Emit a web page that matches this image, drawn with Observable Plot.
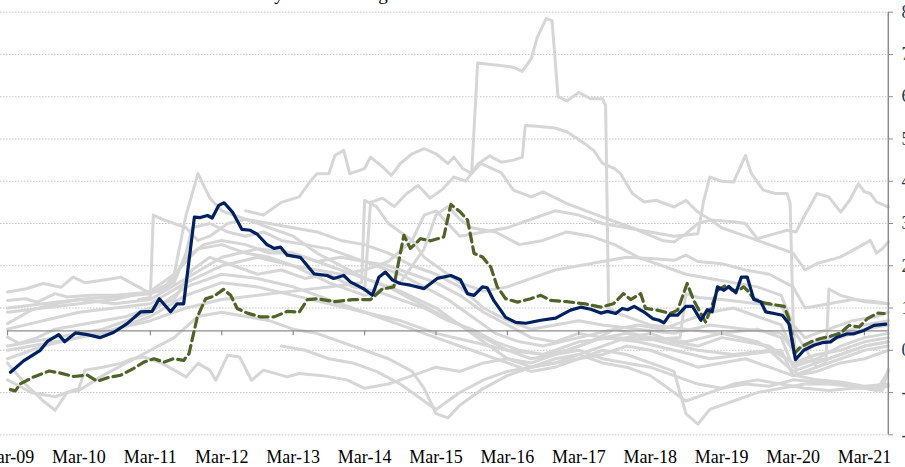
<!DOCTYPE html>
<html>
<head>
<meta charset="utf-8">
<script src="https://cdn.jsdelivr.net/npm/d3@7"></script>
<script src="https://cdn.jsdelivr.net/npm/@observablehq/plot@0.6"></script>
<style>
  html, body { margin: 0; padding: 0; background: #fff; overflow: hidden; }
  #chart { width: 905px; height: 467px; }
</style>
</head>
<body>
<div id="chart"></div>
<script>
// ---- Data (x = months since Mar-2009, y = % y/y) ----
const titleText = "Inflation rates by euro area region";
const tickMonths = [0, 12, 24, 36, 48, 60, 72, 84, 96, 108, 120, 132, 144];
const tickLabels = ["Mar-09","Mar-10","Mar-11","Mar-12","Mar-13","Mar-14","Mar-15","Mar-16","Mar-17","Mar-18","Mar-19","Mar-20","Mar-21"];
const yTicks = [-2, -1, 0, 1, 2, 3, 4, 5, 6, 7, 8];
const axisCross = 0.46;

// Aggregate (solid navy)
const navy = [[0.5,-0.52],[2.7,-0.25],[5.5,0.0],[6.7,0.21],[8.6,0.37],[9.6,0.2],[11.4,0.41],[13.4,0.37],[15.6,0.3],[17.8,0.42],[20.1,0.63],[22.4,0.91],[24.3,0.92],[25.5,1.22],[27.4,0.91],[28.5,1.1],[29.6,1.1],[31.4,3.15],[32.4,3.14],[33.6,3.19],[34.4,3.13],[35.5,3.43],[36.4,3.49],[37.8,3.27],[39.4,2.86],[40.8,2.84],[42,2.74],[43.6,2.5],[44.8,2.41],[45.9,2.44],[47,2.25],[49.2,2.2],[51.5,1.81],[53.7,1.77],[54.8,1.7],[56.5,1.77],[57.6,1.62],[59.8,1.46],[61.3,1.3],[62.4,1.73],[63.5,1.85],[64.7,1.66],[66,1.58],[67.7,1.54],[70,1.46],[72.2,1.7],[74.5,1.77],[76.1,1.67],[77.3,1.34],[78.4,1.3],[79.8,1.5],[80.6,1.48],[81.7,1.18],[83.7,0.78],[85.4,0.66],[87.1,0.64],[89.6,0.71],[92.1,0.76],[94.6,0.95],[96.3,1.02],[98,0.97],[99.7,0.88],[100.8,0.92],[102.2,0.87],[103.3,0.99],[104.2,0.96],[105.3,1.04],[106.9,0.91],[108.4,0.75],[109.5,0.71],[110.3,0.65],[111.2,0.83],[112.6,0.83],[114,1.04],[115.1,1.04],[116.5,0.71],[117.6,0.96],[118.4,0.91],[119.3,1.5],[120.4,1.42],[121.2,1.51],[122.4,1.36],[123.3,1.73],[124.3,1.73],[125.4,1.2],[126.6,1.14],[127.4,0.91],[128.8,0.87],[130.2,0.83],[131.3,0.63],[132.4,-0.22],[133.8,0.0],[135.5,0.12],[136.9,0.18],[138.3,0.2],[139.4,0.31],[141.1,0.39],[142.2,0.39],[143.9,0.47],[145.6,0.59],[147.6,0.62]];

// Comparison series (dashed green)
const green = [[0.5,-0.93],[1.3,-0.96],[2.2,-0.79],[4.4,-0.63],[7,-0.49],[8.9,-0.54],[11.1,-0.62],[13.4,-0.59],[15.1,-0.73],[16.8,-0.65],[19,-0.59],[21.2,-0.43],[22.9,-0.28],[24.6,-0.2],[26.3,-0.28],[27.9,-0.2],[29.6,-0.24],[30.5,-0.08],[31.9,0.79],[33.3,1.22],[34.7,1.28],[36.3,1.44],[37.5,1.3],[38.6,0.99],[40.3,0.88],[42.5,0.79],[44.8,0.79],[47,0.92],[49,0.9],[50.4,1.2],[52,1.22],[55,1.15],[58,1.2],[61,1.2],[63,1.45],[64.9,1.5],[66.6,2.72],[67.7,2.41],[69.4,2.64],[71.1,2.59],[73.3,2.68],[74.5,3.45],[76.1,3.27],[77.3,3.08],[78.4,2.29],[79.8,2.21],[81.2,1.97],[82.3,1.5],[83.7,1.22],[85.7,1.14],[87.9,1.22],[89.6,1.3],[91.3,1.18],[94,1.15],[97,1.1],[99.7,1.02],[101.8,1.1],[103.5,1.34],[104.7,1.2],[106.4,1.34],[107.2,0.99],[109.2,0.95],[111.4,0.87],[112.6,0.95],[114.2,1.58],[115.3,1.18],[116.5,0.87],[117.3,0.67],[118.2,0.99],[119.3,1.42],[120.7,1.54],[121.8,1.42],[122.9,1.42],[123.7,1.5],[124.3,1.42],[125.4,1.22],[127.1,1.12],[128.8,1.08],[130.5,1.04],[131.3,0.75],[132.2,-0.08],[133.3,0.08],[135,0.2],[136.6,0.28],[138.3,0.33],[140,0.41],[141.4,0.59],[143.1,0.55],[144.5,0.75],[146.2,0.88],[147.3,0.87]];

// Individual members (light grey)
const grey01 = [[0,1.38],[3,1.45],[6,1.58],[9,1.49],[11,1.73],[13,1.6],[17,1.68],[19,1.73],[22,1.5],[24,1.34],[26,1.5],[28,1.6],[30,2.3],[31,2.9],[34,3.0],[37,2.8],[40,2.7],[43,2.8],[46,2.6],[50,2.5],[54,2.4],[58,2.2],[62,2.0],[66,1.8],[70,1.5],[74,1.2],[78,0.8],[82,0.4],[86,0.2],[90,0.1],[96,0.3],[102,0.5],[108,0.3],[114,0.2],[120,0.4],[126,0.5],[130,0.3],[132,-0.4],[136,-0.2],[140,0.1],[144,0.3],[148,0.4]];
const grey02 = [[0,1.18],[3,1.22],[5,1.14],[8,1.34],[10,1.26],[14,1.3],[18,1.3],[22,1.35],[26,1.4],[28,1.8],[30,3.2],[32,4.18],[34,3.6],[36,3.3],[40,3.1],[44,2.9],[48,2.7],[52,2.3],[56,2.0],[60,1.7],[64,1.5],[68,1.2],[72,0.9],[76,0.6],[80,0.3],[84,0.0],[88,-0.2],[92,-0.1],[96,0.1],[100,0.3],[104,0.4],[110,0.2],[116,0.0],[122,-0.1],[128,0.0],[132,-0.5],[136,-0.3],[140,-0.1],[144,0.1],[148,0.2]];
const grey03 = [[22,1.2],[24,1.25],[24.5,3.2],[26,3.1],[28,3.0],[30,2.9],[32,2.6],[34,2.7],[37,3.0],[40,3.1],[44,3.0],[48,2.9],[52,2.8],[56,2.6],[60,2.5],[64,2.3],[68,2.0],[72,1.8],[76,1.5],[80,1.0],[84,0.7],[88,0.5],[92,0.6],[96,0.7],[100,0.6],[106,0.5],[112,0.4],[118,0.6],[124,0.5],[130,0.4],[132,0.0],[136,0.2],[140,0.3],[144,0.5],[148,0.6]];
const grey04 = [[0,0.63],[2,0.79],[4,0.95],[8,1.1],[13,1.22],[18,1.26],[24,1.34],[27,1.5],[30,2.2],[33,2.5],[36,2.6],[40,2.5],[44,2.3],[48,2.3],[52,2.1],[56,2.2],[60,2.1],[64,2.0],[68,1.8],[72,1.6],[76,1.3],[80,0.9],[84,0.6],[88,0.3],[92,0.2],[96,0.4],[100,0.3],[106,0.2],[112,0.0],[118,-0.2],[124,-0.1],[130,0.0],[132,-0.6],[136,-0.4],[140,-0.2],[144,0.0],[148,0.1]];
const grey05 = [[0,0.31],[2,0.16],[5,0.3],[8,0.5],[12,0.6],[16,0.7],[20,0.8],[24,1.0],[28,1.2],[31,1.9],[34,2.2],[38,2.0],[42,1.8],[46,1.9],[50,1.7],[54,1.8],[58,1.5],[62,1.4],[66,1.2],[70,1.0],[74,0.7],[78,0.5],[82,0.2],[86,0.0],[90,-0.1],[94,0.0],[98,0.2],[102,0.5],[106,0.6],[110,0.5],[114,0.7],[118,0.9],[122,1.0],[126,0.8],[130,0.6],[132,0.0],[136,0.2],[140,0.4],[144,0.6],[148,0.7]];
const grey06 = [[0,-0.3],[3,-0.8],[6,-1.2],[8,-1.42],[10,-1.0],[12,-0.95],[16,-0.6],[20,-0.3],[24,0.0],[28,0.3],[32,0.8],[36,0.9],[40,0.8],[44,0.7],[48,0.5],[52,0.4],[56,0.2],[60,0.0],[64,-0.2],[68,-0.5],[70,-0.9],[72,-1.5],[74,-1.6],[76,-1.3],[80,-0.9],[84,-0.6],[88,-0.4],[92,-0.3],[96,-0.2],[100,0.0],[104,-0.1],[108,-0.3],[112,-0.5],[114,-1.5],[116,-1.75],[118,-1.4],[122,-1.2],[126,-1.0],[130,-0.9],[134,-0.8],[138,-0.8],[142,-0.85],[146,-0.95],[148,-0.5]];
const grey07 = [[0,-0.7],[4,-1.0],[8,-1.1],[12,-0.9],[13,-0.47],[16,-0.4],[19,-0.31],[21,-0.2],[23,-0.16],[26,-0.31],[28,-0.47],[30,-0.63],[32,-0.31],[34,-0.47],[35,-0.71],[37,-0.12],[39,-0.16],[41,-0.71],[43,-0.47],[47,-0.63],[49,-0.55],[53,-0.6],[57,-0.7],[60,-0.9],[64,-0.8],[68,-0.6],[72,-0.4],[76,-0.5],[80,-0.3],[84,-0.2],[88,-0.3],[92,-0.1],[96,0.0],[100,-0.2],[104,-0.3],[108,-0.4],[112,-0.6],[116,-0.8],[120,-0.9],[124,-0.8],[128,-0.85],[132,-0.7],[136,-0.75],[140,-0.8],[144,-0.9],[147,-0.95],[148,-0.45]];
const grey08 = [[40,3.3],[43,3.2],[46,3.5],[49,3.63],[51,4.02],[52,4.18],[54,4.18],[55,4.61],[56.5,4.73],[57.5,4.18],[60,4.3],[61,4.57],[63,4.34],[64.5,4.14],[66,4.42],[68,4.65],[70,4.77],[72,4.65],[74,4.42],[75,4.57],[76.5,4.3],[78,4.18],[79.5,4.42],[83,4.2],[85,3.79],[88,3.63],[90,3.75],[94,3.47],[100,3.15],[103,3.0],[106,2.84],[110,2.6],[112,2.56],[114,2.76],[116,3.0],[118,3.08],[122,3.04],[124,3.0],[126,2.64],[129,2.76],[131,2.84],[132.5,2.8],[134,3.2],[136,3.71],[138,3.63],[140,3.27],[141.5,3.55],[143,3.94],[144,3.75],[145,3.71],[146,3.51],[148,3.39]];
const grey09 = [[60,1.4],[61,3.5],[63,3.6],[65,3.4],[67,3.7],[69,3.9],[71,3.6],[73,3.8],[75,4.1],[77,4.0],[79,4.4],[81,4.6],[83,4.45],[85,4.5],[86.5,4.57],[87,5.32],[89,5.3],[92,5.26],[94,5.17],[97,4.89],[98.5,4.73],[100,4.42],[102,4.3],[103,4.18],[105,3.71],[107,3.51],[109,3.55],[112,3.39],[114,3.55],[116,3.27],[118,3.1],[120,2.9],[124,2.7],[128,2.5],[132,2.3],[134,1.9],[136,2.05],[140,2.21],[143,2.44],[145,2.6],[146,2.3],[147,2.4],[148,2.56]];
const grey10 = [[0,0.9],[6,1.0],[12,1.1],[18,1.2],[24,1.4],[28,1.8],[32,2.4],[36,2.5],[40,2.3],[44,2.2],[48,2.0],[52,1.9],[56,1.8],[60,1.9],[64,2.1],[68,2.6],[70,3.2],[72,3.3],[74,3.0],[76,2.7],[80,2.8],[84,2.9],[88,3.1],[92,3.3],[96,3.2],[100,3.0],[104,2.9],[108,2.8],[112,2.7],[116,2.76],[117,3.55],[118,4.1],[120,4.0],[122,3.98],[124,4.61],[125,4.18],[127,3.79],[129,3.71],[131,3.71],[131.5,3.47],[132,0.8],[132.5,-0.6],[136,-0.7],[140,-0.75],[144,-0.85],[148,-0.8]];
const grey11 = [[0,-0.2],[6,0.1],[12,0.3],[18,0.5],[24,0.7],[30,1.0],[36,1.2],[42,1.3],[48,1.4],[54,1.5],[59.5,1.6],[60,3.55],[62,3.4],[64,3.0],[66,2.8],[68,2.6],[70,2.2],[72,2.0],[76,1.6],[80,1.4],[84,1.5],[88,1.7],[92,1.9],[96,2.0],[100,2.1],[104,2.2],[108,2.17],[112,2.13],[114,2.25],[116,2.1],[120,2.05],[124,1.9],[128,1.8],[132,1.5],[134,1.0],[138,1.1],[142,1.2],[146,1.15],[148,1.1]];
const grey12 = [[0,0.0],[8,0.2],[16,0.4],[24,0.8],[30,1.3],[36,1.6],[42,1.5],[48,1.3],[54,1.1],[60,0.9],[66,0.7],[72,0.4],[78,0.2],[84,0.0],[90,-0.1],[96,0.2],[102,0.3],[108,0.25],[113,0.3],[114,1.34],[116,1.25],[120,1.2],[126,1.1],[130,1.05],[132,0.5],[136,-0.4],[137.5,-0.3],[138,1.45],[140,1.3],[144,1.15],[148,1.1]];
const grey13 = [[46,0.1],[50,0.0],[54,-0.2],[58,-0.3],[62,-0.5],[66,-0.8],[70,-1.2],[72,-1.4],[76,-1.0],[80,-0.7],[84,-0.5],[88,-0.4],[92,-0.2],[96,-0.1],[100,-0.3],[104,-0.4],[108,-0.6],[110,-0.8],[112,-1.0],[114,-1.2],[118,-1.0],[122,-0.8],[126,-0.7],[130,-0.8],[134,-0.9],[138,-0.95],[142,-0.9],[146,-0.9],[148,-0.85]];
const grey14 = [[0,0.5],[6,0.7],[12,0.9],[18,1.0],[24,1.1],[30,1.6],[36,2.0],[42,2.2],[48,2.0],[54,1.6],[60,1.3],[66,1.6],[70,2.4],[72,3.2],[74,3.4],[76,3.1],[78,2.9],[82,2.8],[86,2.5],[90,2.6],[94,2.8],[98,2.7],[102,2.5],[106,2.2],[110,2.0],[114,1.8],[118,1.7],[122,1.6],[126,1.5],[130,1.3],[132,0.6],[134,0.3],[138,0.5],[142,0.7],[146,0.8],[148,0.9]];
const grey15 = [[0,0.1],[8,0.3],[16,0.5],[24,0.9],[30,1.5],[36,1.8],[42,1.7],[48,1.5],[54,1.2],[60,0.9],[66,0.6],[72,0.3],[78,0.0],[84,-0.3],[88,-0.5],[92,-0.4],[96,-0.2],[100,-0.1],[104,0.1],[108,0.0],[112,-0.2],[116,-0.4],[120,-0.3],[124,-0.2],[128,-0.4],[132,-0.6],[136,-0.5],[140,-0.3],[144,-0.2],[148,0.0]];
const grey16 = [[0,1.0],[6,1.1],[12,1.2],[18,1.1],[24,1.2],[30,1.7],[36,2.2],[42,2.4],[48,2.3],[54,2.0],[60,1.7],[66,1.4],[72,1.0],[76,0.6],[80,0.2],[84,-0.2],[88,-0.4],[92,-0.3],[96,-0.1],[100,0.1],[104,0.3],[108,0.4],[112,0.2],[116,0.1],[120,0.3],[124,0.2],[128,0.1],[132,-0.3],[136,-0.1],[140,0.0],[144,0.2],[148,0.3]];
const grey17 = [[78,4.2],[79,6.8],[82,6.75],[85,6.7],[86.5,6.6],[88,6.9],[89,7.4],[90.5,7.85],[91.5,7.8],[92.5,6.0],[94,5.9],[96,6.1],[98,5.95],[100,5.95],[100.5,5.8],[101,1.0],[103,0.85],[108,0.6],[114,0.5],[120,0.4],[126,0.2],[132,-0.3],[138,-0.2],[144,0.1],[148,0.2]];

const greySeries = [grey01, grey02, grey03, grey04, grey05, grey06, grey07, grey08, grey09, grey10, grey11, grey12, grey13, grey14, grey15, grey16, grey17];

// ---- Build tables for Plot ----
const toRows = (arr, s) => arr.map(([m, v]) => ({m, v, s}));
const greyRows = greySeries.flatMap((arr, i) => toRows(arr, "g" + i));
const navyRows = toRows(navy, "navy");
const greenRows = toRows(green, "green");
const lastMonth = d3.max(greySeries.concat([navy, green]).flat(), d => d[0]);

const chart = Plot.plot({
  width: 905,
  height: 467,
  marginLeft: 0,
  marginRight: 18,
  marginTop: 11.7,
  marginBottom: 32.7,
  style: {fontFamily: "'Liberation Serif', 'Times New Roman', serif", fontSize: "18px", background: "#fff", color: "#000"},
  x: {type: "linear", domain: [tickMonths[0], tickMonths[tickMonths.length - 1]], range: [7, 864], axis: null},
  y: {domain: [yTicks[0], yTicks[yTicks.length - 1]], axis: null},
  marks: [
    Plot.ruleY(yTicks, {stroke: "#b8b8b8", strokeWidth: 0.8, strokeDasharray: "1.5,1.5"}),
    Plot.line(greyRows, {x: "m", y: "v", z: "s", stroke: "#d6d6d6", strokeWidth: 3, strokeLinejoin: "round"}),
    Plot.ruleY([axisCross], {x1: tickMonths[0], x2: lastMonth, stroke: "#8c8c8c", strokeWidth: 1.2}),
    Plot.ruleX(tickMonths, {y1: axisCross, y2: axisCross, insetBottom: -5, stroke: "#8c8c8c", strokeWidth: 1.2}),
    Plot.line(greenRows, {x: "m", y: "v", stroke: "#4f6228", strokeWidth: 3.2, strokeDasharray: "9,5"}),
    Plot.line(navyRows, {x: "m", y: "v", stroke: "#002060", strokeWidth: 3.2, strokeLinejoin: "round"}),
    Plot.ruleX([lastMonth], {stroke: "#8c8c8c", strokeWidth: 1.5}),
    Plot.axisY(yTicks, {anchor: "right", label: null, tickSize: 5, tickPadding: 9, stroke: "#8c8c8c", fill: "#333", tickFormat: d => String(d)}),
    Plot.axisX(tickMonths, {anchor: "bottom", label: null, tickSize: 0, tickPadding: 15, fill: "#000", tickFormat: d => tickLabels[tickMonths.indexOf(d)]})
  ]
});

d3.select(chart).append("text")
  .attr("x", 283).attr("y", 0)
  .attr("font-size", 19)
  .attr("font-family", "'Liberation Serif', serif")
  .attr("fill", "#000")
  .text(titleText);

document.getElementById("chart").appendChild(chart);
</script>
</body>
</html>
